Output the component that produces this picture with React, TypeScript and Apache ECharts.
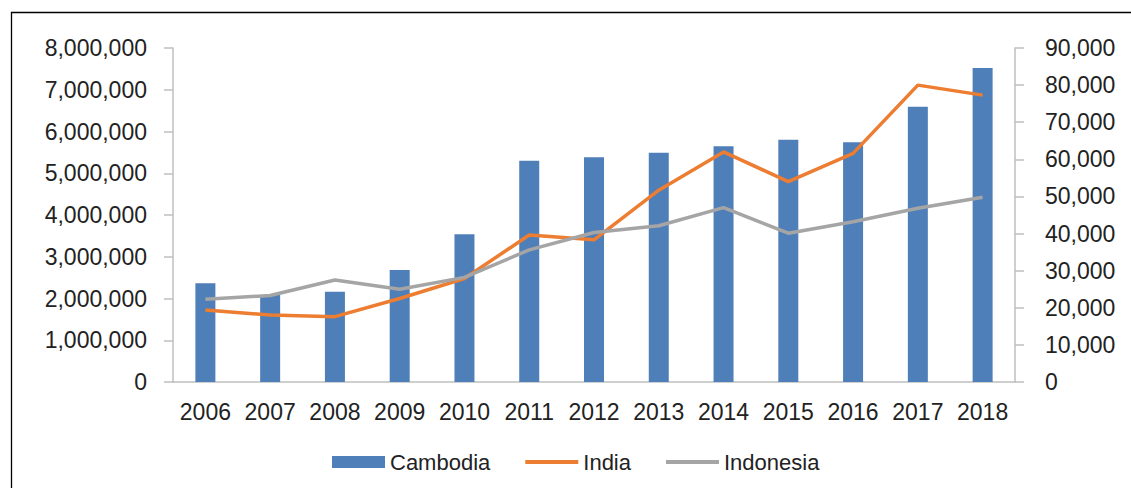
import React, { useEffect, useRef } from "react";
import * as echarts from "echarts";

const years = ["2006","2007","2008","2009","2010","2011","2012","2013","2014","2015","2016","2017","2018"];
const cambodia = [2365000, 2085000, 2162000, 2683000, 3537000, 5301000, 5381000, 5493000, 5645000, 5804000, 5740000, 6595000, 7521000];
const india = [19400, 18050, 17600, 22500, 27900, 39600, 38300, 51700, 62000, 54000, 61600, 80000, 77300];
const indonesia = [22300, 23300, 27500, 25000, 28200, 35600, 40300, 42100, 47000, 40100, 43200, 46800, 49800];

const fmt = (v: number) => v.toLocaleString("en-US");

export default function App() {
  const ref = useRef<HTMLDivElement>(null);
  useEffect(() => {
    document.body.style.margin = "0";
    const chart = echarts.init(ref.current!, null, { renderer: "svg" });
    const font = "'Liberation Sans', Arial, sans-serif";
    const axisColor = "#BFBFBF";
    chart.setOption({
      animation: false,
      backgroundColor: "#fff",
      grid: { left: 173, right: 116, top: 48, bottom: 106 },
      graphic: [
        {
          type: "rect",
          shape: { x: 11.5, y: 12.5, width: 1130, height: 490 },
          style: { fill: "none", stroke: "#000", lineWidth: 1.3 },
          silent: true,
        },
      ],
      legend: {
        left: 332,
        top: 451,
        padding: 0,
        itemWidth: 53,
        itemHeight: 12,
        itemGap: 33,
        textStyle: { fontFamily: font, fontSize: 22, color: "#222" },
        data: [
          { name: "Cambodia", icon: "rect" },
          { name: "India", itemStyle: { opacity: 0 }, lineStyle: { width: 4 } },
          { name: "Indonesia", itemStyle: { opacity: 0 }, lineStyle: { width: 4 } },
        ],
      },
      xAxis: {
        type: "category",
        data: years,
        axisLine: { lineStyle: { color: axisColor, width: 1.5 } },
        axisTick: { show: false },
        axisLabel: { fontFamily: font, fontSize: 23, color: "#222", margin: 18, interval: 0 },
      },
      yAxis: [
        {
          type: "value",
          min: 0,
          max: 8000000,
          interval: 1000000,
          position: "left",
          splitLine: { show: false },
          axisLine: { show: true, lineStyle: { color: axisColor, width: 1.5 } },
          axisTick: { show: true, length: 9, lineStyle: { color: axisColor, width: 1.5 } },
          axisLabel: { fontFamily: font, fontSize: 23, color: "#222", margin: 26, formatter: fmt },
        },
        {
          type: "value",
          min: 0,
          max: 90000,
          interval: 10000,
          position: "right",
          splitLine: { show: false },
          axisLine: { show: true, lineStyle: { color: axisColor, width: 1.5 } },
          axisTick: { show: true, length: 9, lineStyle: { color: axisColor, width: 1.5 } },
          axisLabel: { fontFamily: font, fontSize: 23, color: "#222", margin: 30, formatter: fmt },
        },
      ],
      series: [
        {
          name: "Cambodia",
          type: "bar",
          yAxisIndex: 0,
          data: cambodia,
          barWidth: 20,
          itemStyle: { color: "#4F7FB8" },
        },
        {
          name: "India",
          type: "line",
          yAxisIndex: 1,
          data: india,
          symbol: "circle",
          showSymbol: false,
          lineStyle: { color: "#ED7D31", width: 3.5 },
          itemStyle: { color: "#ED7D31" },
        },
        {
          name: "Indonesia",
          type: "line",
          yAxisIndex: 1,
          data: indonesia,
          symbol: "circle",
          showSymbol: false,
          lineStyle: { color: "#A5A5A5", width: 3.5 },
          itemStyle: { color: "#A5A5A5" },
        },
      ],
    });
    return () => chart.dispose();
  }, []);
  return <div ref={ref} style={{ width: 1131, height: 488 }} />;
}
